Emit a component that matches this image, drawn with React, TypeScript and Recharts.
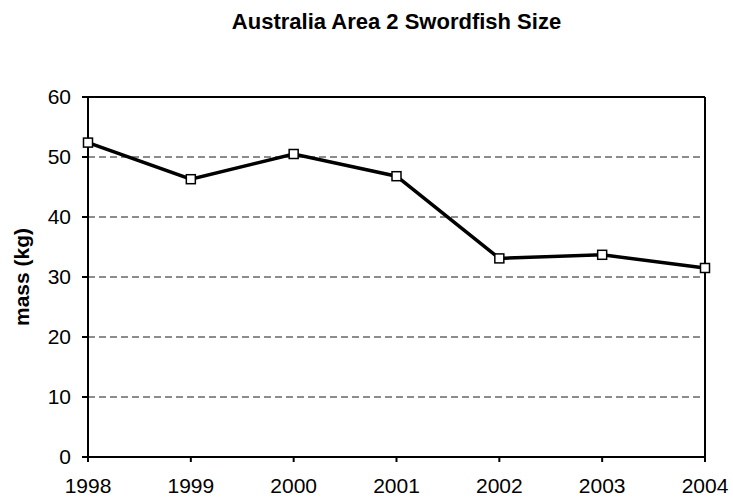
import { LineChart, Line, XAxis, YAxis, CartesianGrid, ReferenceLine, Label } from "recharts";

const years = [1998, 1999, 2000, 2001, 2002, 2003, 2004];
const massKg = [52.4, 46.3, 50.5, 46.8, 33.1, 33.7, 31.5];
const yTicks = [0, 10, 20, 30, 40, 50, 60];

const data = years.map((year, i) => ({ year, mass: massKg[i] }));

const FONT = "Arial, 'Liberation Sans', sans-serif";

// hollow square marker
const SquareDot = (props: any) => {
  const { cx, cy } = props;
  if (cx == null || cy == null) return null;
  return <rect x={cx - 4.5} y={cy - 4.5} width={9} height={9} fill="#fff" stroke="#000" strokeWidth={1.5} />;
};

export default function App() {
  return (
    <div style={{ position: "absolute", left: 0, top: 0, width: 733, height: 501, background: "#fff", fontFamily: FONT }}>
      <div
        style={{
          position: "absolute",
          left: 88,
          width: 617,
          top: 11,
          lineHeight: 1,
          textAlign: "center",
          fontWeight: "bold",
          fontSize: 22,
          color: "#000",
        }}
      >
        Australia Area 2 Swordfish Size
      </div>
      <LineChart width={733} height={501} data={data} margin={{ top: 97, right: 28, left: 0, bottom: 0 }}>
        <CartesianGrid vertical={false} stroke="#1a1a1a" strokeDasharray="7 4" />
        <XAxis
          dataKey="year"
          type="number"
          domain={[1998, 2004]}
          ticks={years}
          height={44}
          stroke="#000"
          strokeWidth={2}
          tickSize={5}
          tickMargin={16}
          tick={{ fill: "#000", fontSize: 21, fontFamily: FONT }}
          interval={0}
        />
        <YAxis
          domain={[0, 60]}
          ticks={yTicks}
          width={88}
          stroke="#000"
          strokeWidth={2}
          tickSize={6}
          tickMargin={11}
          tick={{ fill: "#000", fontSize: 21, fontFamily: FONT }}
          interval={0}
        >
          <Label
            value="mass (kg)"
            angle={-90}
            position="insideLeft"
            offset={22}
            style={{ textAnchor: "middle", fontWeight: "bold", fontSize: 21, fill: "#000", fontFamily: FONT }}
          />
        </YAxis>
        <ReferenceLine y={60} stroke="#000" strokeWidth={2} />
        <ReferenceLine x={2004} stroke="#000" strokeWidth={2} />
        <Line
          dataKey="mass"
          stroke="#000"
          strokeWidth={3.5}
          dot={<SquareDot />}
          activeDot={false}
          isAnimationActive={false}
        />
      </LineChart>
    </div>
  );
}
